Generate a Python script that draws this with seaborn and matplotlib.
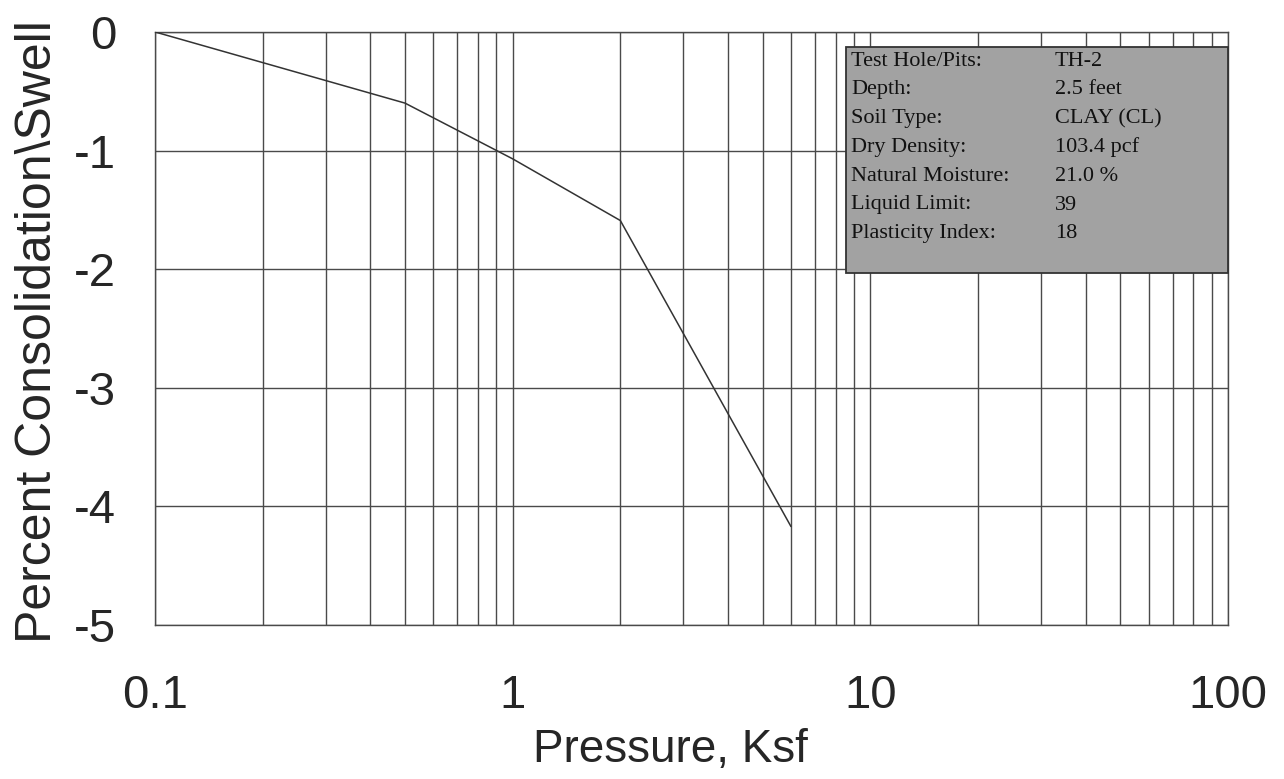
import numpy as np
import pandas as pd
import matplotlib
matplotlib.use("Agg")
import matplotlib.pyplot as plt
import seaborn as sns
from matplotlib.ticker import FixedLocator, NullFormatter, FixedFormatter

# data
pressure_ksf = [0.1, 0.5, 1.0, 2.0, 6.0]
percent_swell = [0.0, -0.6, -1.07, -1.59, -4.17]

info_labels = ["Test Hole/Pits:", "Depth:", "Soil Type:", "Dry Density:",
               "Natural Moisture:", "Liquid Limit:", "Plasticity Index:"]
info_values = ["TH-2", "2.5 feet", "CLAY (CL)", "103.4 pcf",
               "21.0 %", "39", "18"]

x_ticks = [0.1, 1, 10, 100]
x_tick_labels = ["0.1", "1", "10", "100"]
y_ticks = [0, -1, -2, -3, -4, -5]

df = pd.DataFrame({"pressure": pressure_ksf, "swell": percent_swell})

sns.set_style("white")
plt.rcParams["font.family"] = ["Liberation Sans", "DejaVu Sans"]

fig = plt.figure(figsize=(12.84, 7.79), dpi=100)
ax = fig.add_axes([0.1207, 0.1977, 0.8357, 0.7613])

sns.lineplot(data=df, x="pressure", y="swell", ax=ax, color="#333333",
             linewidth=1.1, zorder=3)

ax.set_xscale("log")
ax.set_xlim(0.1, 100)
ax.set_ylim(-5, 0)

minor = [m * 10.0 ** e for e in (-1, 0, 1) for m in range(2, 10)]
ax.xaxis.set_major_locator(FixedLocator(x_ticks))
ax.xaxis.set_major_formatter(FixedFormatter(x_tick_labels))
ax.xaxis.set_minor_locator(FixedLocator(minor))
ax.xaxis.set_minor_formatter(NullFormatter())
ax.set_yticks(y_ticks)
ax.set_yticklabels([str(v) for v in y_ticks])

grid_color = "#4a4a4a"
ax.grid(True, which="both", axis="x", color=grid_color, linewidth=1.0)
ax.grid(True, which="major", axis="y", color=grid_color, linewidth=1.0)

for side in ("top", "right", "bottom", "left"):
    ax.spines[side].set_visible(True)
    ax.spines[side].set_color(grid_color)
    ax.spines[side].set_linewidth(1.0)

ax.tick_params(axis="y", which="major", direction="inout", length=10,
               color=grid_color, labelsize=34, pad=23)
ax.tick_params(axis="x", which="both", direction="out", length=6,
               color="#888888", width=0.6)
ax.tick_params(axis="x", which="major", labelsize=34, pad=29)

ax.set_xlabel("Pressure, Ksf", fontsize=33)
ax.xaxis.set_label_coords(0.48, -0.173)
ax.set_ylabel("Percent Consolidation\\Swell", fontsize=36)
ax.yaxis.set_label_coords(-0.088, 0.495)

# info box
bx0, bx1 = 846 / 1284, 1228 / 1284
by0, by1 = 1 - 273 / 779, 1 - 47 / 779
rect = plt.Rectangle((bx0, by0), bx1 - bx0, by1 - by0, transform=fig.transFigure,
                     facecolor="#a2a2a2", edgecolor="#333333", linewidth=1.3,
                     zorder=5)
fig.patches.append(rect)
for i, (lab, val) in enumerate(zip(info_labels, info_values)):
    yy = 1 - (61 + i * 28.8) / 779
    fig.text(851 / 1284, yy, lab, family="Liberation Serif", fontsize=16,
             color="#111111", va="center", zorder=6)
    fig.text(1055 / 1284, yy, val, family="Liberation Serif", fontsize=16,
             color="#111111", va="center", zorder=6)

fig.savefig("out.png", dpi=100, facecolor="white")
